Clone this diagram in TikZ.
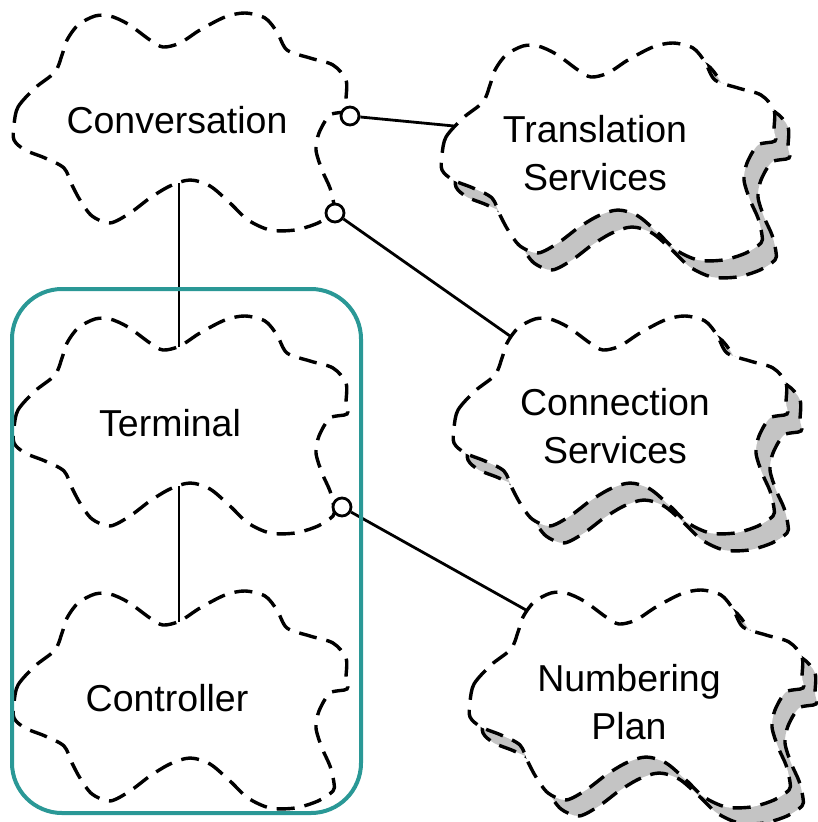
\documentclass[tikz,border=0pt]{standalone}
\usepackage{fontspec}
\setmainfont{Liberation Sans}
\definecolor{frameteal}{RGB}{42,152,150}
\definecolor{shadegray}{RGB}{196,196,196}

% outline of a class-category cloud, in local units (1pt, y downwards)
\def\catoutline{plot[smooth cycle, tension=0.5] coordinates {
  (14,125) (18,107) (35,88) (55,72) (62,55) (67,40) (78,25) (95,16)
  (110,16) (128,24) (150,40) (163,47) (180,43) (200,30) (225,17) (245,13)
  (265,18) (277,32) (287,50) (310,58) (333,65) (346,80) (346,100) (347,111)
  (330,115) (319,133) (316,150) (322,170) (330,188) (334,205) (333,213)
  (318,223) (295,230) (270,230) (248,220) (230,203) (210,186) (190,180)
  (170,186) (150,198) (130,213) (110,223) (92,216) (80,200) (72,185)
  (64,168) (45,158) (25,150) (14,140)}}

\tikzset{
  cloudline/.style={line width=3.4pt, dash pattern=on 18pt off 10pt},
  pics/category/.style={code={
    \draw[cloudline, fill=white] \catoutline;
    \coordinate (-top) at (179,44);
    \coordinate (-bot) at (179,183);
    \coordinate (-west) at (26,96);
    \coordinate (-nw) at (70,33);
  }},
  pics/categoryshade/.style={code={
    \draw[cloudline, fill=shadegray] \catoutline;
  }},
  link/.style={line width=2.8pt},
  socket/.style={circle, draw, fill=white, line width=2.8pt, inner sep=0pt, minimum size=18pt},
  cattext/.style={font=\fontsize{37.5}{48}\selectfont, align=center, inner sep=0pt},
  frame/.style={draw=frameteal, line width=4pt, rounded corners=50pt},
}

\begin{document}
\begin{tikzpicture}[x=1pt, y=-1pt]
\useasboundingbox (0,0) rectangle (818,822);

% plain categories
\pic (conv) at (0,0) {category};
\pic (term) at (0,303) {category};
\pic (ctrl) at (0,578) {category};

% utility categories with a shaded border
\pic at (442,47) {categoryshade};
\pic (trans) at (428,30) {category};
\pic at (454,320) {categoryshade};
\pic (conn) at (440,303) {category};
\pic at (469,593) {categoryshade};
\pic (numb) at (456,577) {category};

% names
\node[cattext, anchor=base] (conv-t) at (177,133) {Conversation};
\node[cattext, anchor=base] (term-t) at (170,436) {Terminal};
\node[cattext, anchor=base] (ctrl-t) at (167,711) {Controller};
\node[cattext] (trans-t) at (595,153) {Translation\\Services};
\node[cattext] (conn-t) at (615,426) {Connection\\Services};
\node[cattext] (numb-t) at (629,702) {Numbering\\Plan};

% import sockets
\node[socket] (s1) at (350,116) {};
\node[socket] (s2) at (335,213) {};
\node[socket] (s3) at (342,507) {};

% dependencies
\draw[link] (conv-bot) -- (term-top);
\draw[link] (term-bot) -- (ctrl-top);
\draw[link] (s1) -- (trans-west);
\draw[link] (s2) -- (conn-nw);
\draw[link] (s3) -- (numb-nw);

% grouping frame
\draw[frame] (12,289) rectangle (361,813);
\end{tikzpicture}
\end{document}
